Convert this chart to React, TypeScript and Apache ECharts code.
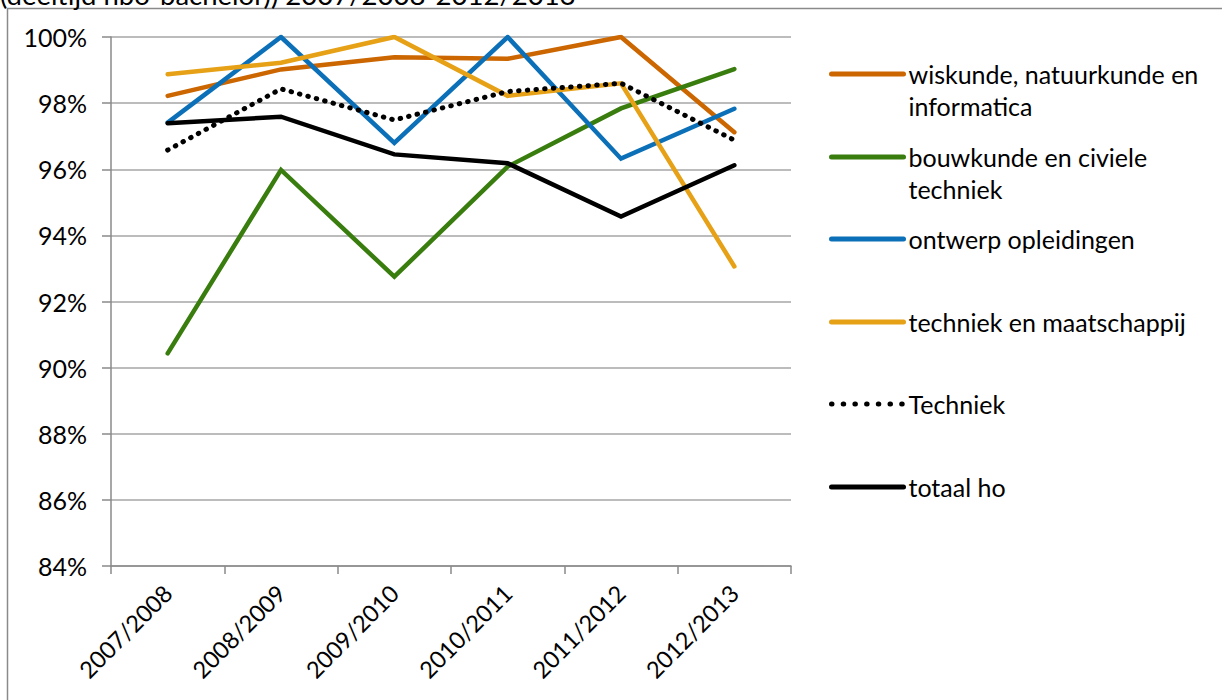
import React, { useEffect, useRef } from "react";
import * as echarts from "echarts";

const categories = ["2007/2008", "2008/2009", "2009/2010", "2010/2011", "2011/2012", "2012/2013"];
const yTicks = { min: 84, max: 100, interval: 2 };

const wiskunde = [98.22, 99.02, 99.39, 99.34, 100, 97.12];
const bouwkunde = [90.43, 95.98, 92.75, 96.08, 97.84, 99.03];
const ontwerp = [97.41, 100, 96.8, 100, 96.32, 97.83];
const maatschappij = [98.87, 99.22, 100, 98.22, 98.6, 93.06];
const techniek = [96.58, 98.43, 97.49, 98.35, 98.6, 96.88];
const totaal = [97.39, 97.59, 96.45, 96.18, 94.57, 96.12];

const names = [
  "wiskunde, natuurkunde en\ninformatica",
  "bouwkunde en civiele\ntechniek",
  "ontwerp opleidingen",
  "techniek en maatschappij",
  "Techniek",
  "totaal ho",
];
const title = "(deeltijd hbo-bachelor)) 2007/2008-2012/2013";

const FONT = "Lato";
const FS = 25;

export default function App() {
  const ref = useRef<HTMLDivElement>(null);
  useEffect(() => {
    document.body.style.margin = "0";
    const chart = echarts.init(ref.current!, null, { renderer: "svg" });
    const colors = ["#CC6600", "#3A7D0F", "#0C70B8", "#E6A117", "#000000", "#000000"];
    const datas = [wiskunde, bouwkunde, ontwerp, maatschappij, techniek, totaal];
    const legendCenters = [74, 157, 239, 322, 404, 487];
    const series = names.map((n, i) => ({
      name: n,
      type: "line",
      data: datas[i],
      symbol: "none",
      color: colors[i],
      lineStyle:
        i === 4
          ? { color: colors[i], width: 5, type: [0.5, 8.2], cap: "round" }
          : { color: colors[i], width: 4.5, cap: "round", join: "miter" },
      z: 2 + i,
    }));
    const legends = names.map((n, i) => {
      const twoLine = n.includes("\n");
      const textH = twoLine ? 96 : 32;
      return {
        data: [n],
        orient: "vertical",
        left: 829,
        top: legendCenters[i] - textH / 2,
        itemWidth: 72,
        itemHeight: 14,
        padding: 0,
        formatter: (name: string) => (name.includes("\n") ? " \n" + name : name),
        textStyle: {
          fontFamily: FONT,
          fontSize: FS,
          color: "#000",
          lineHeight: 32,
        },
        itemStyle: { opacity: 0 },
        lineStyle:
          i === 4 ? { type: [0.5, 11.2], cap: "round", width: 5 } : { cap: "round", width: 5 },
        selectedMode: false,
      };
    });
    chart.setOption({
      animation: false,
      backgroundColor: "#fff",
      grid: { left: 111, right: 431, top: 37, bottom: 134, containLabel: false },
      xAxis: {
        type: "category",
        data: categories,
        boundaryGap: true,
        axisLine: { show: true, lineStyle: { color: "#8a8a8a", width: 1.5 } },
        axisTick: { show: true, length: 8, lineStyle: { color: "#8a8a8a", width: 1.5 } },
        axisLabel: {
          rotate: 45,
          margin: 23,
          fontFamily: FONT,
          fontSize: 23.5,
          color: "#000",
        },
      },
      yAxis: {
        type: "value",
        min: yTicks.min,
        max: yTicks.max,
        interval: yTicks.interval,
        axisLine: { show: true, lineStyle: { color: "#8a8a8a", width: 1.5 } },
        axisTick: { show: true, length: 9, lineStyle: { color: "#8a8a8a", width: 1.5 } },
        splitLine: { show: true, lineStyle: { color: "#a6a6a6", width: 1.5 } },
        axisLabel: {
          formatter: "{value}%",
          margin: 24,
          fontFamily: FONT,
          fontSize: FS,
          color: "#000",
        },
      },
      legend: legends,
      series,
      graphic: [
        {
          type: "rect",
          shape: { x: 7.5, y: 8.5, width: 1400, height: 900 },
          style: { fill: "none", stroke: "#8a8a8a", lineWidth: 1.5 },
          silent: true,
          z: -1,
        },
        {
          type: "text",
          x: 0,
          y: 8,
          style: {
            text: title,
            fontFamily: FONT,
            fontSize: 27.5,
            fill: "#000",
            verticalAlign: "bottom",
            align: "left",
          },
          silent: true,
        },
      ],
    });
    return () => chart.dispose();
  }, []);
  return <div ref={ref} style={{ width: 1222, height: 700 }} />;
}
